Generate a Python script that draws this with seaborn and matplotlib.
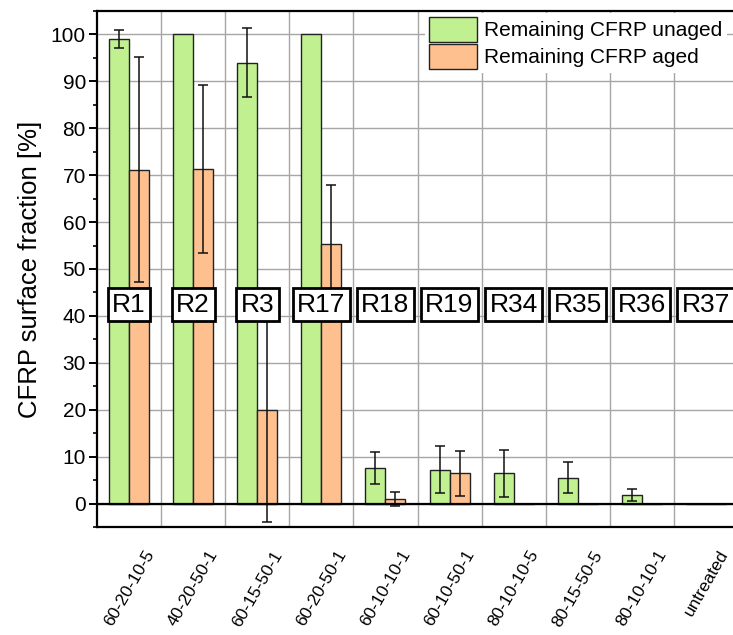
import numpy as np
import pandas as pd
import matplotlib
matplotlib.use("Agg")
import matplotlib.pyplot as plt
from matplotlib.patches import Patch
from matplotlib.ticker import MultipleLocator, FixedLocator
import seaborn as sns

# Sample IDs, treatment parameters and remaining CFRP fractions
samples = ["R1", "R2", "R3", "R17", "R18", "R19", "R34", "R35", "R36", "R37"]
params = ["60-20-10-5", "40-20-50-1", "60-15-50-1", "60-20-50-1", "60-10-10-1",
          "60-10-50-1", "80-10-10-5", "80-15-50-5", "80-10-10-1", "untreated"]
unaged = [99.0, 100.0, 94.0, 100.0, 7.6, 7.2, 6.5, 5.5, 1.8, 0.0]
unaged_err = [1.9, np.nan, 7.4, np.nan, 3.4, 5.0, 5.0, 3.3, 1.2, np.nan]
aged = [71.2, 71.4, 20.0, 55.3, 1.0, 6.5, 0.0, 0.0, 0.0, 0.0]
aged_err = [24.0, 17.9, 24.0, 12.6, 1.5, 4.8, np.nan, np.nan, np.nan, np.nan]
series = ["Remaining CFRP unaged", "Remaining CFRP aged"]
colors = ["#C0F090", "#FFC090"]

df = pd.DataFrame({
    "param": params * 2,
    "value": unaged + aged,
    "err": unaged_err + aged_err,
    "series": [series[0]] * len(params) + [series[1]] * len(params),
})

sns.set_theme(style="white")
plt.rcParams["font.family"] = ["Liberation Sans", "DejaVu Sans"]
plt.rcParams.update({"text.color": "black", "axes.labelcolor": "black",
                     "xtick.color": "black", "ytick.color": "black"})

W, H = 733, 635
fig = plt.figure(figsize=(W / 100, H / 100), dpi=100)
ax = fig.add_axes([97 / W, 1 - 527 / H, 641 / W, 516 / H])

sns.barplot(data=df, x="param", y="value", hue="series", order=params,
            hue_order=series, palette=colors, width=0.625, errorbar=None,
            edgecolor="#222222", linewidth=1.0, saturation=1, legend=False,
            ax=ax, zorder=2)

# Error bars on top of each bar
for cont, s in zip(ax.containers, series):
    sub = df[df["series"] == s].set_index("param").loc[params]
    xs = [b.get_x() + b.get_width() / 2 for b in cont]
    ax.errorbar(xs, sub["value"].values, yerr=sub["err"].values, fmt="none",
                ecolor="#111111", elinewidth=1.1, capsize=3.6, capthick=1.1,
                zorder=3)

ax.axhline(0, color="black", lw=1.6, zorder=3)

# Sample ID boxes
for i, s in enumerate(samples):
    ax.text(i, 42.4, s, ha="center", va="center", fontsize=19, zorder=5,
            bbox=dict(boxstyle="square,pad=0.17", fc="white", ec="black", lw=2))

ax.set_xlim(-0.5, len(params) - 0.5)
ax.set_ylim(-5, 105)
ax.yaxis.set_major_locator(MultipleLocator(10))
ax.yaxis.set_minor_locator(MultipleLocator(5))
ax.set_yticks(np.arange(0, 101, 10))
ax.xaxis.set_minor_locator(FixedLocator(np.arange(0.5, len(params) - 0.5, 1)))

ax.grid(False)
ax.grid(axis="y", which="major", color="#a6a6a6", lw=1.0, zorder=0)
ax.grid(axis="x", which="minor", color="#a6a6a6", lw=1.0, zorder=0)
ax.set_axisbelow(True)

ax.tick_params(axis="y", which="major", direction="out", length=6, width=1.4,
               color="black", labelsize=15, labelcolor="black", pad=2, left=True)
ax.tick_params(axis="y", which="minor", direction="out", length=3, width=1.2,
               color="black", left=True)
ax.tick_params(axis="x", which="both", length=0, labelsize=12.5,
               labelcolor="black", pad=15)
plt.setp(ax.get_xticklabels(), rotation=60, ha="center", va="top")

ax.set_xlabel("")
ax.set_ylabel("CFRP surface fraction [%]", fontsize=18.5, labelpad=6,
              color="black")

for sp in ax.spines.values():
    sp.set_color("black")
    sp.set_linewidth(1.6)
    sp.set_visible(True)

handles = [Patch(facecolor=c, edgecolor="#222222", lw=1.0) for c in colors]
leg = fig.legend(handles, series, loc="upper left",
                 bbox_to_anchor=(425 / W, 1 - 13 / H), frameon=True,
                 fontsize=15, handlelength=2.3, handleheight=1.45,
                 handletextpad=0.35, labelspacing=0.1, borderpad=0.2,
                 borderaxespad=0)
leg.get_frame().set_edgecolor("none")
leg.get_frame().set_facecolor("white")
leg.get_frame().set_alpha(1)
leg.set_zorder(6)

fig.savefig("out.png", dpi=100)
